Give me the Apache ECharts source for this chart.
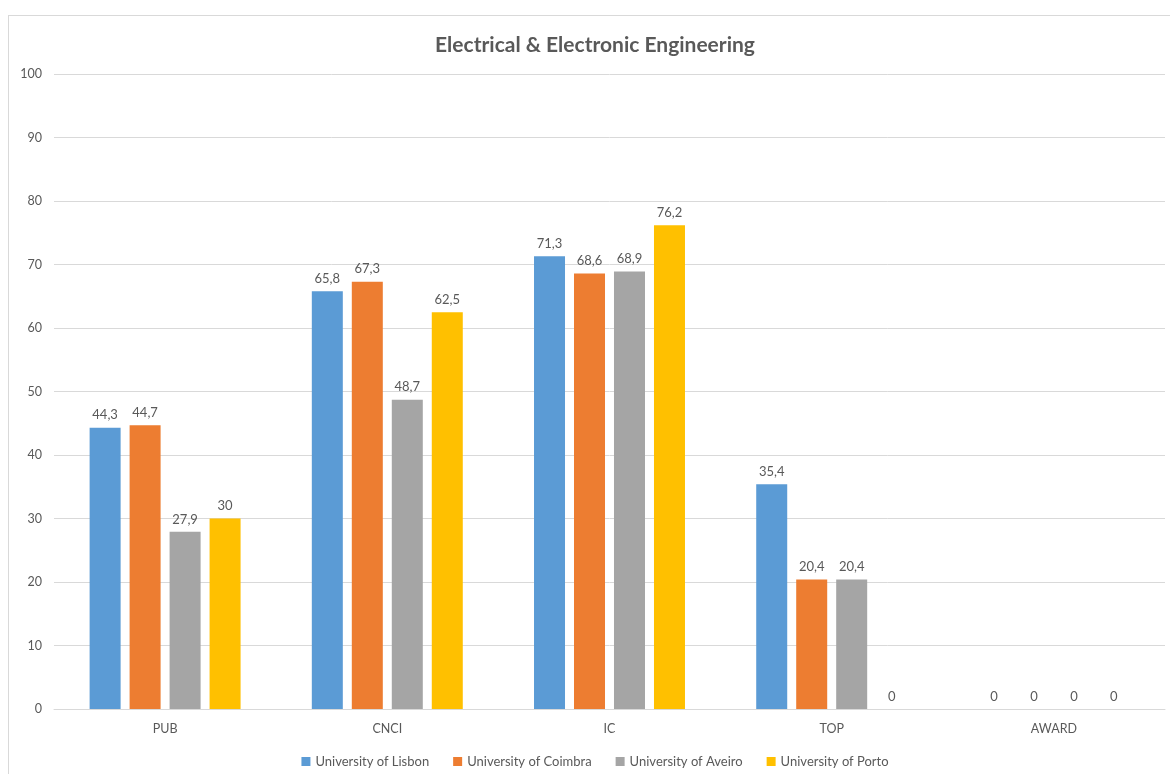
<!DOCTYPE html>
<html><head><meta charset="utf-8">
<script src="https://cdn.jsdelivr.net/npm/echarts@6/dist/echarts.min.js"></script>
<style>
html,body{margin:0;padding:0;background:#fff;overflow:hidden;width:1170px;height:774px;}
#frame{position:absolute;left:8px;top:15px;width:1174px;height:770px;border:1px solid #d9d9d9;box-sizing:border-box;}
#c{position:absolute;left:0;top:0;width:1190px;height:774px;}
</style></head>
<body><div id="frame"></div><div id="c"></div>
<script>
const categories = ['PUB','CNCI','IC','TOP','AWARD'];
const seriesNames = ['University of Lisbon','University of Coimbra','University of Aveiro','University of Porto'];
const lisbon = [44.3, 65.8, 71.3, 35.4, 0];
const coimbra = [44.7, 67.3, 68.6, 20.4, 0];
const aveiro = [27.9, 48.7, 68.9, 20.4, 0];
const porto = [30, 62.5, 76.2, 0, 0];
const colors = ['#5b9bd5','#ed7d31','#a5a5a5','#ffc000'];
const values = [lisbon, coimbra, aveiro, porto];
const font = 'Lato, "Open Sans", sans-serif';
const chart = echarts.init(document.getElementById('c'));
chart.setOption({
  animation:false,
  textStyle:{fontFamily:font},
  title:{text:'Electrical & Electronic Engineering',left:'center',top:30,
    textStyle:{fontFamily:font,fontSize:21,fontWeight:'bold',color:'#595959'}},
  grid:{left:54,right:25,top:74,bottom:65,containLabel:false},
  legend:{bottom:1,left:'center',itemWidth:9,itemHeight:9,itemGap:24,icon:'rect',
    textStyle:{fontFamily:font,fontSize:13,color:'#595959'},data:seriesNames},
  xAxis:{type:'category',data:categories,
    axisLine:{lineStyle:{color:'#d9d9d9',width:1}},axisTick:{show:false},
    axisLabel:{color:'#595959',fontSize:12.5,fontFamily:font,margin:13}},
  yAxis:{type:'value',min:0,max:100,interval:10,
    axisLine:{show:false},axisTick:{show:false},
    splitLine:{lineStyle:{color:'#d9d9d9',width:1}},
    axisLabel:{color:'#595959',fontSize:12.5,fontFamily:font,margin:12,align:'right'}},
  series: seriesNames.map((n,i)=>({
    name:n,type:'bar',data:values[i],barWidth:31,barGap:'29%',
    itemStyle:{color:colors[i]},
    label:{show:true,position:'top',distance:6,color:'#595959',fontSize:13,fontFamily:font,
      formatter:p=>String(p.value).replace('.',',')}
  }))
});
</script></body></html>
